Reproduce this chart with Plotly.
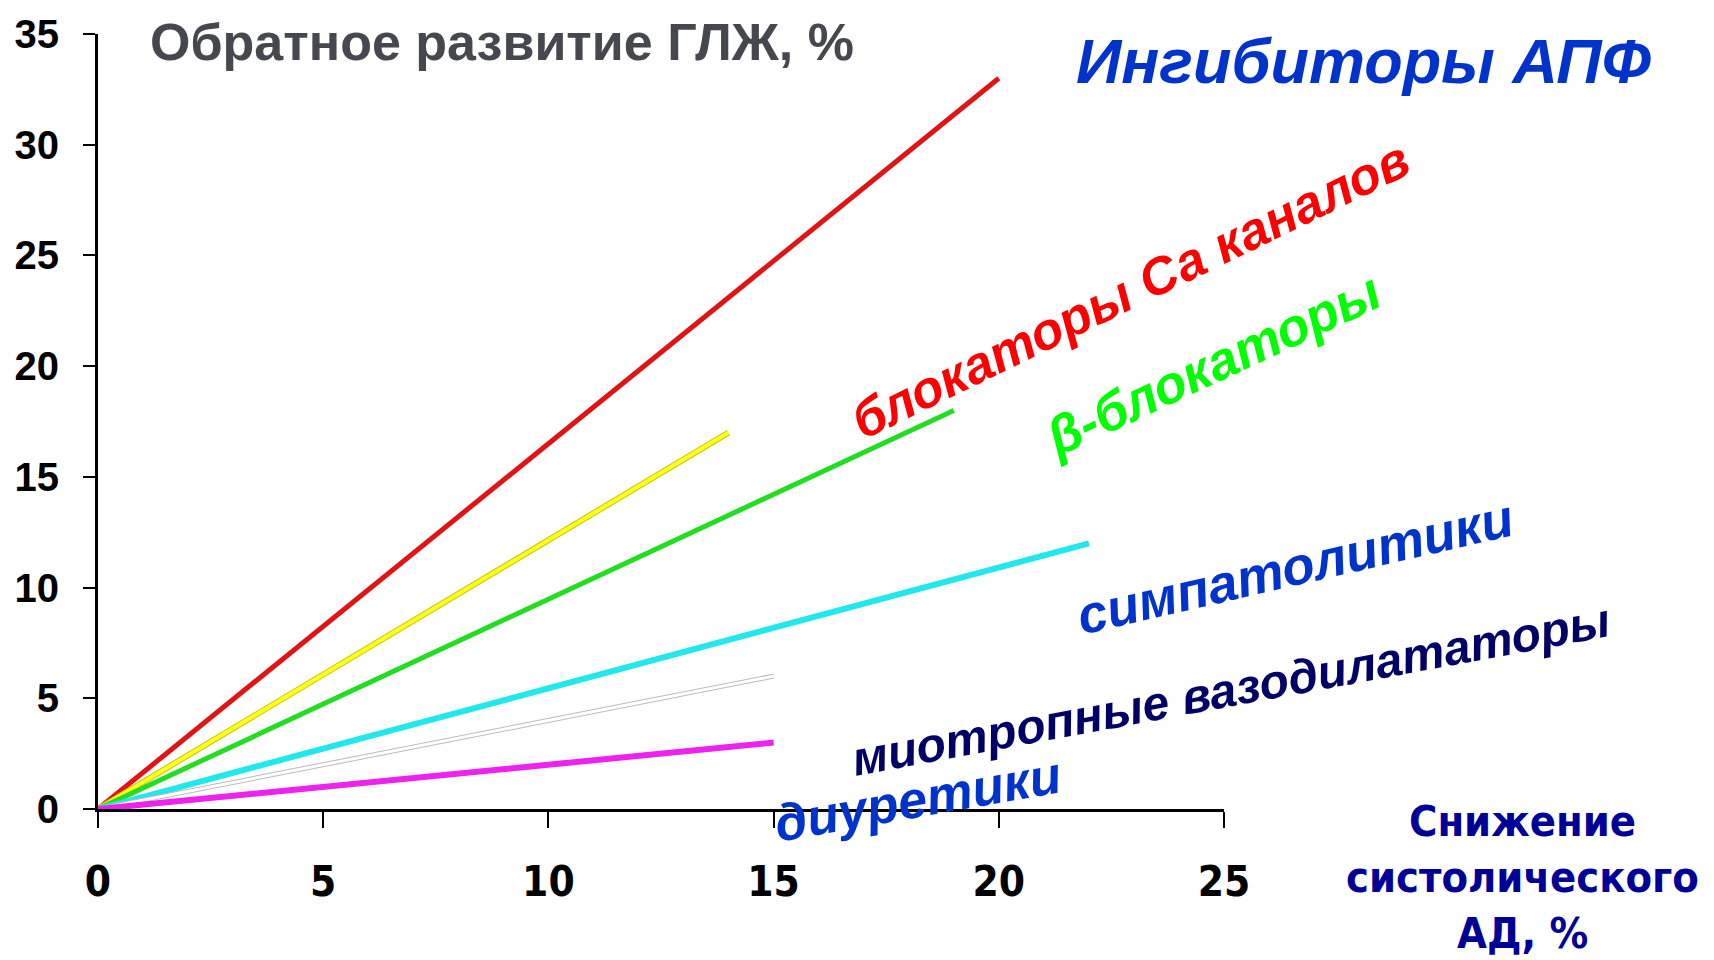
import plotly.graph_objects as go

# Regression of LV hypertrophy vs. reduction of systolic BP, by drug class
x_ticks = [0, 5, 10, 15, 20, 25]
y_ticks = [0, 5, 10, 15, 20, 25, 30, 35]

ace_x = [0, 20]
ace_y = [0, 33]
yellow_x = [0, 14]
yellow_y = [0, 17]
beta_x = [0, 19]
beta_y = [0, 18]
symp_x = [0, 22]
symp_y = [0, 12]
vaso_x = [0, 15]
vaso_y = [0, 6]
diur_x = [0, 15]
diur_y = [0, 3]

W, H = 1714, 960
L, R, T, B = 98, 1224, 27, 809


def px(xp):
    return (xp - L) / (R - L)


def py(yp):
    return (B - yp) / (B - T)


fig = go.Figure()

def add_line(xs, ys, color, width):
    fig.add_trace(go.Scatter(x=xs, y=ys, mode="lines",
                             line=dict(color=color, width=width),
                             hoverinfo="skip", showlegend=False))

add_line(ace_x, ace_y, "#E01414", 5)
add_line(yellow_x, yellow_y, "#C8C800", 6)
add_line(yellow_x, yellow_y, "#FFFF20", 4)
add_line(beta_x, beta_y, "#22DD22", 5)
add_line(symp_x, symp_y, "#22E8EE", 6)
add_line(vaso_x, vaso_y, "#BBBBBB", 5)
add_line(vaso_x, vaso_y, "#FFFFFF", 3)
add_line(diur_x, diur_y, "#EE22EE", 6)

bold = "Liberation Sans, Arial, sans-serif"
narrow = "Liberation Sans Narrow, DejaVu Sans Condensed, Arial Narrow, sans-serif"

annotations = [
    dict(text="Обратное развитие ГЛЖ, %", x=px(148), y=py(35), xanchor="left",
         font=dict(family=bold, size=52, color="#47474F", weight="bold"), textangle=0),
    dict(text="<i>Ингибиторы АПФ</i>", x=px(1363), y=py(54),
         font=dict(family=bold, size=63, color="#0033CC", weight="bold"), textangle=0),
    dict(text="<i>блокаторы Са каналов</i>", x=px(1130), y=py(285),
         font=dict(family=bold, size=52, color="#FF0000", weight="bold"), textangle=-26),
    dict(text="<i>β-блокаторы</i>", x=px(1212), y=py(360),
         font=dict(family=bold, size=53, color="#00FF00", weight="bold"), textangle=-25),
    dict(text="<i>симпатолитики</i>", x=px(1295), y=py(564),
         font=dict(family=bold, size=53, color="#0033CC", weight="bold"), textangle=-13),
    dict(text="<i>миотропные вазодилататоры</i>", x=px(1231), y=py(688),
         font=dict(family=bold, size=48, color="#000066", weight="bold"), textangle=-10.5),
    dict(text="<i>диуретики</i>", x=px(918), y=py(799),
         font=dict(family=bold, size=52, color="#0033CC", weight="bold"), textangle=-10),
]
for txt, yp in [("Снижение", 821), ("систолического", 878), ("АД, %", 934)]:
    annotations.append(dict(text=txt, x=px(1522), y=py(yp),
                            font=dict(family=narrow, size=43, color="#000099", weight="bold")))

for a in annotations:
    a.update(xref="paper", yref="paper", showarrow=False,
             xanchor=a.get("xanchor", "center"), yanchor="middle")

fig.update_layout(
    width=W, height=H,
    margin=dict(l=L, r=W - R, t=T, b=H - B, pad=0),
    paper_bgcolor="white", plot_bgcolor="white",
    showlegend=False,
    annotations=annotations,
    xaxis=dict(range=[0, 25], tickvals=x_ticks, ticktext=[str(v) for v in x_ticks],
               showgrid=False, zeroline=False, showline=True, linecolor="black",
               linewidth=3, ticks="outside", ticklen=16, tickwidth=2, tickcolor="black",
               ticklabelstandoff=18,
               tickfont=dict(family=narrow, size=42, color="black", weight="bold")),
    yaxis=dict(range=[0, 35], tickvals=y_ticks, ticktext=[str(v) for v in y_ticks],
               showgrid=False, zeroline=False, showline=True, linecolor="black",
               linewidth=3, ticks="outside", ticklen=12, tickwidth=2, tickcolor="black",
               ticklabelstandoff=16,
               tickfont=dict(family=bold, size=40, color="black", weight="bold")),
)

fig.write_html("out.html")
